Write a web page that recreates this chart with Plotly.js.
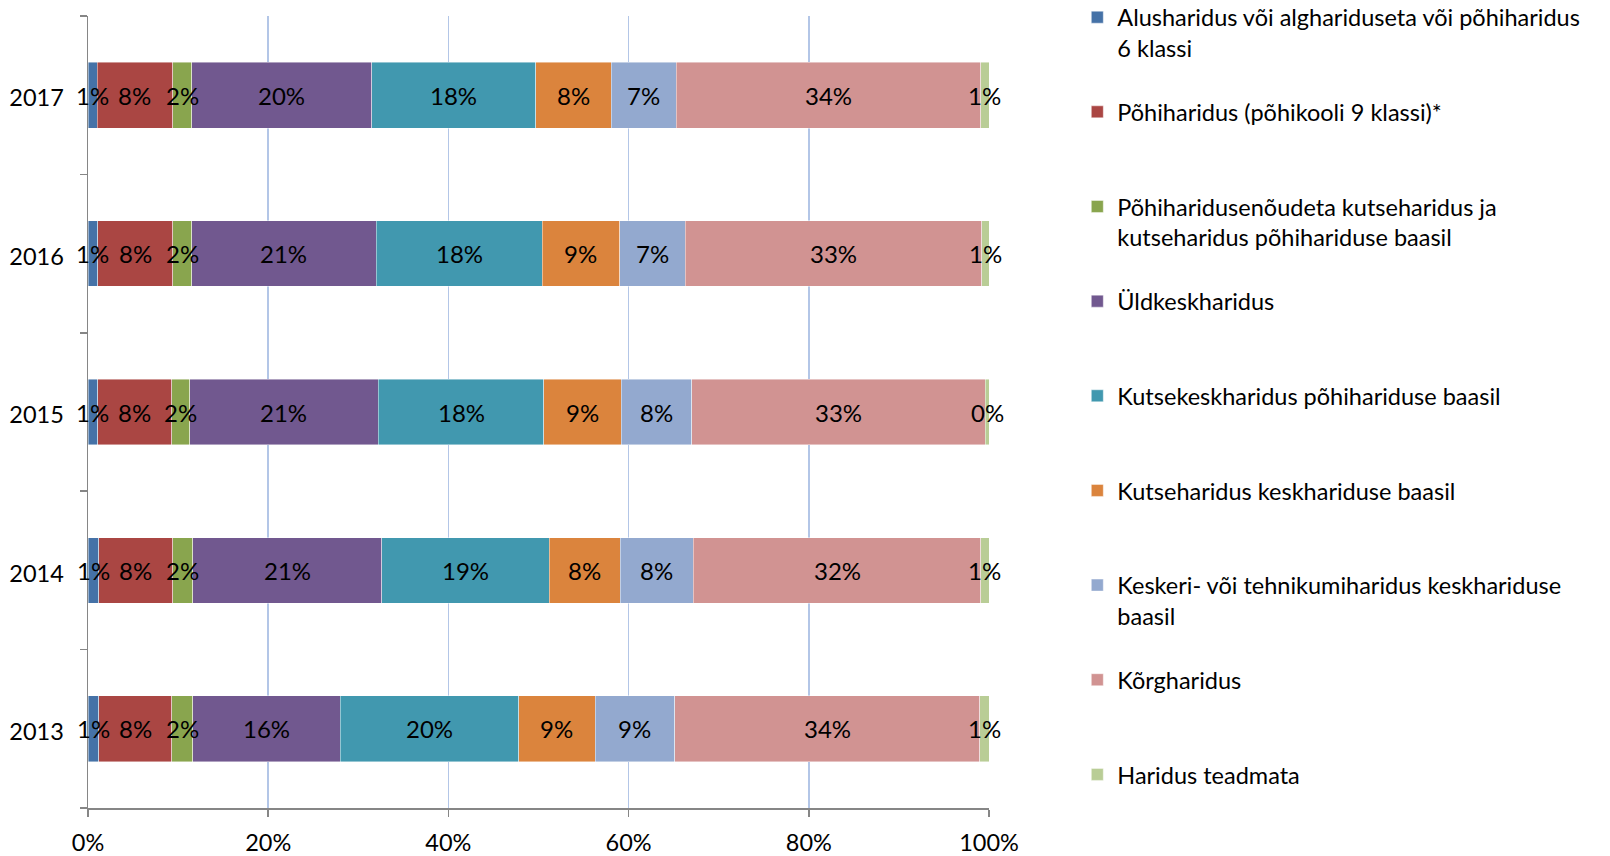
<!DOCTYPE html>
<html>
<head>
<meta charset="utf-8">
<script src="https://cdn.plot.ly/plotly-3.0.1.min.js"></script>
<style>html,body{margin:0;padding:0;background:#fff;}#chart{width:1610px;height:856px;}</style>
</head>
<body>
<div id="chart"></div>
<script>
// Categories (bottom to top)
var years = ['2013', '2014', '2015', '2016', '2017'];

// Series names (legend labels, with wrap points)
var seriesNames = [
  'Alusharidus või alghariduseta või põhiharidus<br>6 klassi',
  'Põhiharidus (põhikooli 9 klassi)*',
  'Põhiharidusenõudeta kutseharidus ja<br>kutseharidus põhihariduse baasil',
  'Üldkeskharidus',
  'Kutsekeskharidus põhihariduse baasil',
  'Kutseharidus keskhariduse baasil',
  'Keskeri- või tehnikumiharidus keskhariduse<br>baasil',
  'Kõrgharidus',
  'Haridus teadmata'
];

// Shares in % per year (2013, 2014, 2015, 2016, 2017)
var alusharidus   = [1.2, 1.2, 1.1, 1.1, 1.0];
var pohiharidus   = [8.1, 8.2, 8.2, 8.3, 8.4];
var kutsePohi     = [2.3, 2.2, 2.0, 2.1, 2.1];
var yldkesk       = [16.4, 21.0, 20.9, 20.5, 20.0];
var kutsekesk     = [19.8, 18.6, 18.4, 18.4, 18.2];
var kutseKesk     = [8.5, 7.9, 8.6, 8.6, 8.4];
var keskeri       = [8.8, 8.1, 7.8, 7.3, 7.2];
var korgharidus   = [33.9, 31.9, 32.6, 32.9, 33.8];
var teadmata      = [1.0, 0.9, 0.4, 0.8, 0.9];

var seriesValues = [alusharidus, pohiharidus, kutsePohi, yldkesk, kutsekesk, kutseKesk, keskeri, korgharidus, teadmata];

var colors = ['#4572A7', '#AA4643', '#89A54E', '#71588F', '#4198AF', '#DB843D', '#93A9CF', '#D19392', '#B9CD96'];

// X tick labels
var xTickVals = [0, 20, 40, 60, 80, 100];
var xTickText = ['0%', '20%', '40%', '60%', '80%', '100%'];

var FONT = 'Lato, "Noto Sans", sans-serif';

function padLines(name, n) {
  var lines = name.split('<br>').length;
  var out = name;
  for (var i = lines; i < n; i++) out += '<br>\u00a0';
  return out;
}

var traces = seriesValues.map(function (vals, i) {
  return {
    type: 'bar',
    orientation: 'h',
    name: padLines(seriesNames[i], 3),
    legendgroup: 'g' + i,
    y: years,
    x: vals,
    marker: {color: colors[i], line: {color: 'rgba(255,255,255,0.55)', width: 0.8}},
    hoverinfo: 'skip'
  };
});

// Data labels drawn on top of all bars, centred in each stacked segment
// (category axis: annotation y is the category's serial number)
var annotations = [];
var cum = years.map(function () { return 0; });
seriesValues.forEach(function (vals) {
  vals.forEach(function (v, j) {
    annotations.push({
      xref: 'x', yref: 'y',
      x: cum[j] + v / 2,
      y: j,
      text: Math.round(v) + '%',
      showarrow: false,
      xanchor: 'center', yanchor: 'middle',
      yshift: 0,
      font: {family: FONT, size: 24, color: '#000'}
    });
    cum[j] += v;
  });
});

var layout = {
  width: 1610,
  height: 856,
  paper_bgcolor: '#fff',
  plot_bgcolor: '#fff',
  barmode: 'stack',
  bargap: 0.585,
  margin: {l: 88, r: 621, t: 16, b: 48, autoexpand: false},
  font: {family: FONT, size: 23.5, color: '#000'},
  showlegend: true,
  annotations: annotations,
  legend: {
    x: 1.098, xanchor: 'left',
    y: 1.026, yanchor: 'top',
    traceorder: 'grouped',
    tracegroupgap: 0,
    valign: 'top',
    maxheight: 1000,
    font: {family: FONT, size: 23.5, color: '#000'},
    bgcolor: 'rgba(0,0,0,0)',
    borderwidth: 0
  },
  xaxis: {
    range: [0, 100],
    tickvals: xTickVals,
    ticktext: xTickText,
    showgrid: true,
    gridcolor: '#b3c6e7',
    gridwidth: 1.5,
    zeroline: false,
    showline: true,
    linecolor: '#868686',
    linewidth: 2,
    ticks: 'outside',
    ticklen: 7,
    tickwidth: 1.5,
    tickcolor: '#868686',
    ticklabelstandoff: 6,
    tickfont: {family: FONT, size: 23.5, color: '#000'},
    fixedrange: true
  },
  yaxis: {
    type: 'category',
    categoryorder: 'array',
    categoryarray: years,
    range: [-0.5, years.length - 0.5],
    showgrid: false,
    zeroline: false,
    showline: true,
    linecolor: '#868686',
    linewidth: 1.5,
    ticks: 'outside',
    tickson: 'boundaries',
    ticklen: 7,
    tickwidth: 1.5,
    tickcolor: '#868686',
    ticklabelstandoff: 18,
    ticklabelshift: 3,
    tickfont: {family: FONT, size: 23.5, color: '#000'},
    fixedrange: true
  }
};

Plotly.newPlot('chart', traces, layout, {displayModeBar: false, staticPlot: true});
</script>
</body>
</html>
